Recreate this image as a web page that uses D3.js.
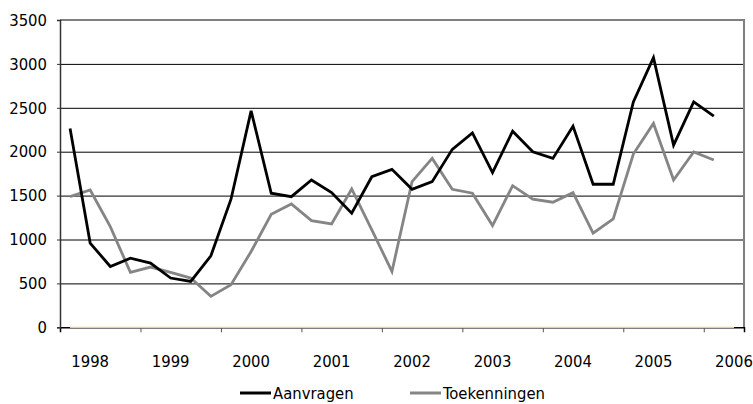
<!DOCTYPE html>
<html>
<head>
<meta charset="utf-8">
<script src="https://cdn.jsdelivr.net/npm/d3@7"></script>
<style>
  body { margin: 0; background: #fff; }
  svg { display: block; font-family: 'DejaVu Sans Condensed', 'DejaVu Sans', sans-serif; }
</style>
</head>
<body>
<div id="chart"></div>
<script>
// quarters, 1997 Q4 up to 2006 Q1 (last one has no data)
const quarters = [
  '1997-4',
  '1998-1', '1998-2', '1998-3', '1998-4',
  '1999-1', '1999-2', '1999-3', '1999-4',
  '2000-1', '2000-2', '2000-3', '2000-4',
  '2001-1', '2001-2', '2001-3', '2001-4',
  '2002-1', '2002-2', '2002-3', '2002-4',
  '2003-1', '2003-2', '2003-3', '2003-4',
  '2004-1', '2004-2', '2004-3', '2004-4',
  '2005-1', '2005-2', '2005-3', '2005-4',
  '2006-1'
];
const yearLabels = ['1998', '1999', '2000', '2001', '2002', '2003', '2004', '2005', '2006'];
const yTicks = [0, 500, 1000, 1500, 2000, 2500, 3000, 3500];
const seriesNames = ['Aanvragen', 'Toekenningen'];

const aanvragen = [2265, 959, 693, 788, 731, 561, 523, 814, 1459, 2465, 1527, 1488, 1678, 1534, 1300, 1715,
  1799, 1572, 1659, 2027, 2215, 1761, 2234, 1999, 1924, 2291, 1629, 1629, 2567, 3072, 2075, 2567, 2405];
const toekenningen = [1488, 1564, 1147, 625, 686, 625, 561, 352, 485, 863, 1288, 1405, 1215, 1178, 1576, 1110,
  636, 1659, 1924, 1572, 1527, 1159, 1613, 1459, 1425, 1534, 1072, 1235, 1973, 2322, 1678, 1996, 1905];
// faint zero series that shows as a yellow line on the x axis
const nulLijn = [0, 0, 0, 0, 0, 0, 0, 0, 0, 0, 0, 0, 0, 0, 0, 0, 0,
  0, 0, 0, 0, 0, 0, 0, 0, 0, 0, 0, 0, 0, 0, 0, 0, 0];

const W = 753, H = 404;
const margin = { top: 20, right: 9, bottom: 76.7, left: 60 };
const width = W - margin.left - margin.right;
const height = H - margin.top - margin.bottom;

const svg = d3.select('#chart').append('svg')
  .attr('width', W).attr('height', H)
  .append('g')
  .attr('transform', `translate(${margin.left},${margin.top})`);

const x = d3.scaleBand().domain(quarters).range([0, width]).padding(0);
const xi = d3.scaleLinear().domain([0, quarters.length]).range([0, width]);
const y = d3.scaleLinear().domain([0, 3500]).range([height, 0]);
const cx = (d, i) => x(quarters[i]) + x.bandwidth() / 2;

// gridlines
svg.append('g').attr('class', 'grid')
  .call(d3.axisLeft(y).tickValues(yTicks.slice(1, -1)).tickSize(-width).tickFormat(''))
  .call(g => g.select('.domain').remove())
  .selectAll('line').attr('stroke', '#000').attr('stroke-width', 1);

// plot border top/right
svg.append('path')
  .attr('d', `M0,${y(3500)}H${width}V${height}`)
  .attr('fill', 'none').attr('stroke', '#808080').attr('stroke-width', 2);

// x axis tick marks (every 4 quarters)
svg.append('g')
  .attr('transform', `translate(0,${height})`)
  .call(d3.axisBottom(xi).tickValues([4, 8, 12, 16, 20, 24, 28, 32]).tickSize(5).tickFormat(''))
  .call(g => g.select('.domain').attr('stroke', '#000').attr('stroke-width', 1.5))
  .selectAll('.tick line').attr('stroke', '#555');

// x axis year labels, at the first quarter of each year
const q1 = quarters.filter(q => q.endsWith('-1'));
svg.append('g')
  .attr('transform', `translate(0,${height})`)
  .call(d3.axisBottom(x).tickValues(q1).tickSize(0).tickPadding(28)
    .tickFormat((d, i) => yearLabels[i]))
  .call(g => g.select('.domain').remove())
  .selectAll('text').style('font-size', '16.5px').attr('fill', '#000')
  .style('font-family', "'DejaVu Sans Condensed', sans-serif");

// y axis
svg.append('g')
  .call(d3.axisLeft(y).tickValues(yTicks).tickSize(3).tickPadding(10).tickFormat(d3.format('d')))
  .call(g => g.select('.domain').attr('stroke', '#333').attr('stroke-width', 1.5))
  .call(g => g.selectAll('.tick line').attr('stroke', '#333'))
  .selectAll('text').style('font-size', '16.5px').attr('fill', '#000')
  .style('font-family', "'DejaVu Sans Condensed', sans-serif");

const line = d3.line().x(cx).y(d => y(d));

svg.append('path')
  .attr('fill', 'none').attr('stroke', '#e2da74').attr('stroke-width', 1.2)
  .attr('d', line(nulLijn));

svg.append('path')
  .attr('fill', 'none').attr('stroke', '#858585').attr('stroke-width', 2.8)
  .attr('stroke-linejoin', 'miter')
  .attr('d', line(toekenningen));

svg.append('path')
  .attr('fill', 'none').attr('stroke', '#000').attr('stroke-width', 2.8)
  .attr('stroke-linejoin', 'miter')
  .attr('d', line(aanvragen));

// legend
const colors = ['#000', '#858585'];
const legend = svg.append('g')
  .attr('transform', `translate(${240 - margin.left},${393 - margin.top})`);
const item = legend.selectAll('g').data(seriesNames).join('g')
  .attr('transform', (d, i) => `translate(${i * 170},0)`);
item.append('line')
  .attr('x1', 0).attr('x2', 31).attr('y1', 0).attr('y2', 0)
  .attr('stroke', (d, i) => colors[i]).attr('stroke-width', 3);
item.append('text')
  .attr('x', 33).attr('dy', '0.36em')
  .style('font-size', '16.5px')
  .text(d => d);
</script>
</body>
</html>
